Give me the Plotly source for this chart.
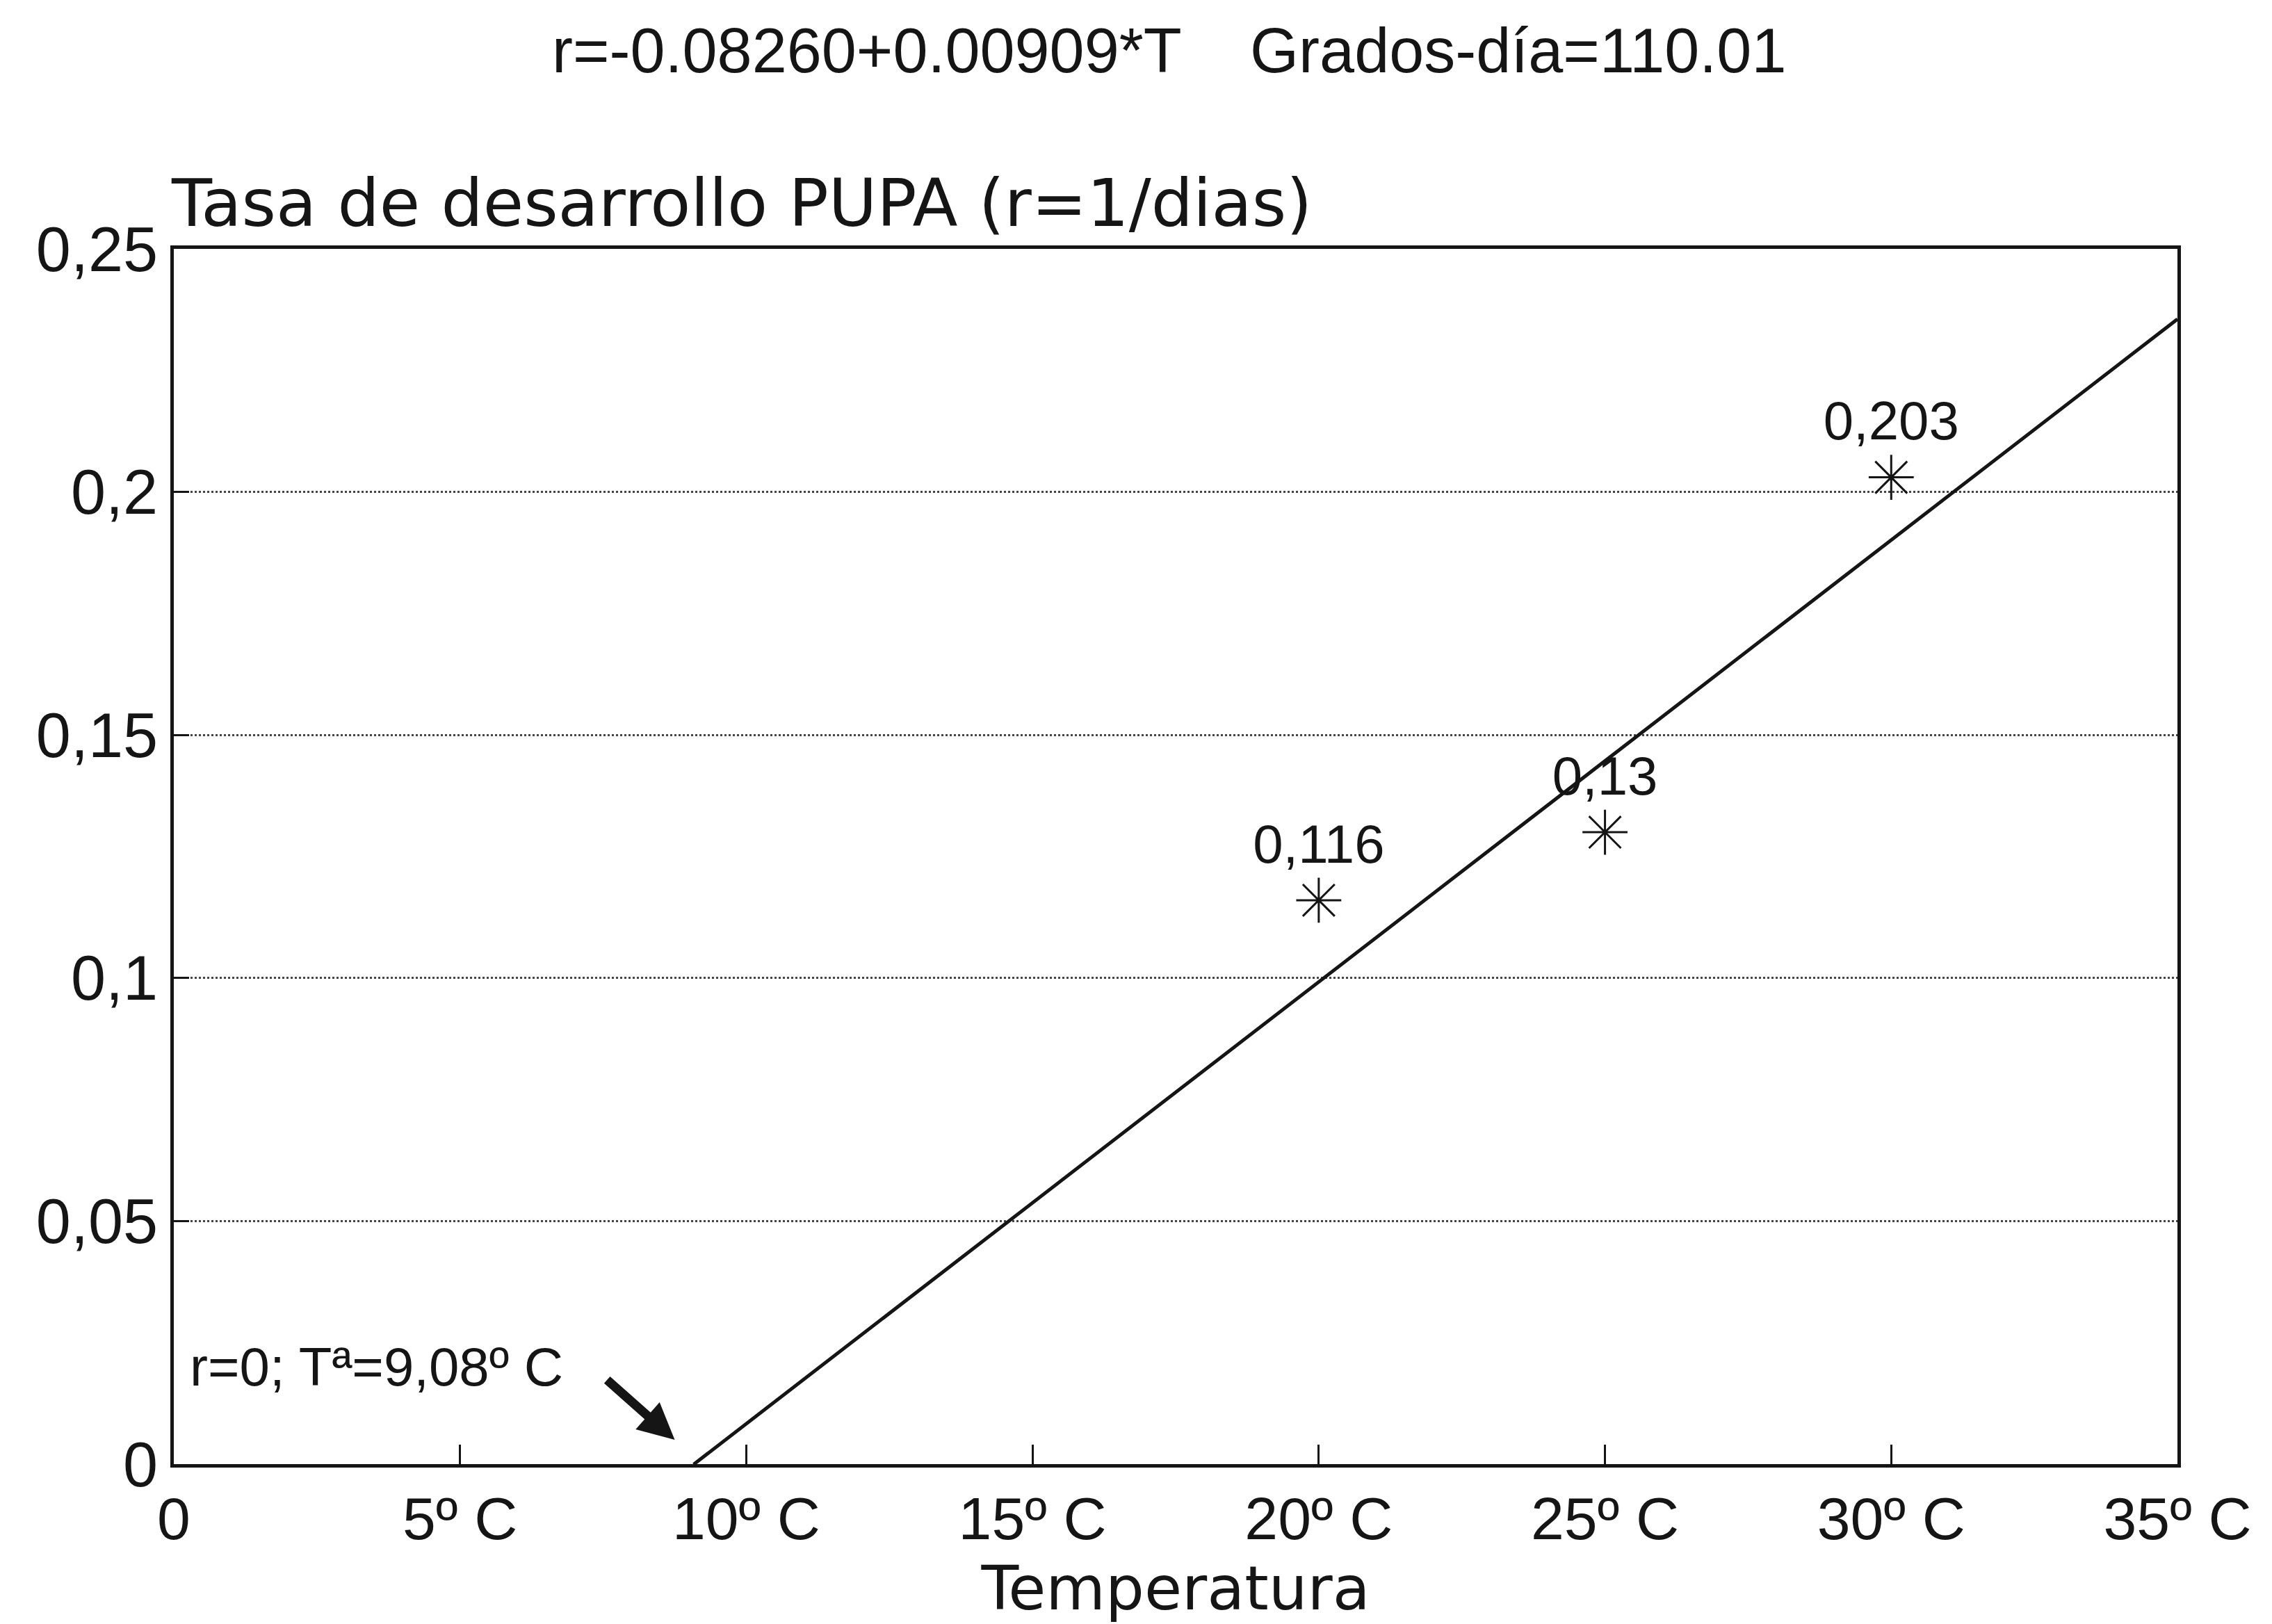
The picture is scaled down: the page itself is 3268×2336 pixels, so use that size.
import plotly.graph_objects as go

# Data
temps = [20, 25, 30]
rates = [0.116, 0.13, 0.203]
point_labels = ["0,116", "0,13", "0,203"]
intercept = -0.08260
slope = 0.00909
line_T = [9.08, 35]
line_r = [intercept + slope * t for t in line_T]

x_tickvals = [0, 5, 10, 15, 20, 25, 30, 35]
x_ticktext = ["0", "5º C", "10º C", "15º C", "20º C", "25º C", "30º C", "35º C"]
y_tickvals = [0, 0.05, 0.1, 0.15, 0.2, 0.25]
y_ticktext = ["0", "0,05", "0,1", "0,15", "0,2", "0,25"]

FONT = "Liberation Sans, Arial, sans-serif"
WIDE = "DejaVu Sans, Liberation Sans, sans-serif"
INK = "#151515"

fig = go.Figure()
fig.add_trace(go.Scatter(x=line_T, y=line_r, mode="lines",
                         line=dict(color=INK, width=5), showlegend=False))
fig.add_trace(go.Scatter(x=temps, y=rates, mode="markers+text",
                         marker=dict(symbol="asterisk-open", size=54, color=INK,
                                     line=dict(color=INK, width=3)),
                         text=point_labels, textposition="top center",
                         textfont=dict(family=FONT, size=78, color=INK),
                         showlegend=False))

fig.update_layout(
    width=3268, height=2336,
    margin=dict(l=250, r=136, t=358, b=221),
    paper_bgcolor="white", plot_bgcolor="white",
    font=dict(family=FONT, color=INK),
    xaxis=dict(range=[0, 35], tickvals=x_tickvals, ticktext=x_ticktext,
               showgrid=False, zeroline=False, showline=True, mirror=True,
               linecolor=INK, linewidth=5, ticks="inside", ticklen=28,
               tickwidth=3, tickcolor=INK,
               tickfont=dict(family=FONT, size=86, color=INK),
               title=dict(text="Temperatura", font=dict(family=WIDE, size=88, color=INK),
                          standoff=30)),
    yaxis=dict(range=[0, 0.25], tickvals=y_tickvals, ticktext=y_ticktext,
               showgrid=True, gridcolor="#444", gridwidth=3, griddash="dot",
               zeroline=False, showline=True, mirror=True,
               linecolor=INK, linewidth=5, ticks="inside", ticklen=22,
               tickwidth=3, tickcolor=INK,
               tickfont=dict(family=FONT, size=90, color=INK)),
    annotations=[
        dict(text="r=-0.08260+0.00909*T    Grados-día=110.01", xref="paper", yref="paper",
             x=0.5, y=1.0, xanchor="center", yanchor="middle", xshift=-10,
             yshift=358 - 73, showarrow=False,
             font=dict(family=FONT, size=90, color=INK)),
        dict(text="Tasa de desarrollo PUPA (r=1/dias)", xref="paper", yref="paper",
             x=0, y=1.0, xanchor="left", yanchor="middle", xshift=-6,
             yshift=358 - 292, showarrow=False,
             font=dict(family=WIDE, size=95, color=INK)),
        dict(text="r=0; Tª=9,08º C", xref="x", yref="y", x=0.25, y=0.02,
             xanchor="left", yanchor="middle", showarrow=False,
             font=dict(family=FONT, size=78, color=INK)),
        dict(text="", xref="x", yref="y", x=8.75, y=0.005, ax=7.55, ay=0.0175,
             axref="x", ayref="y", showarrow=True, arrowhead=2, arrowsize=0.8,
             arrowwidth=13, arrowcolor=INK),
    ],
)

fig.write_html("out.html")
